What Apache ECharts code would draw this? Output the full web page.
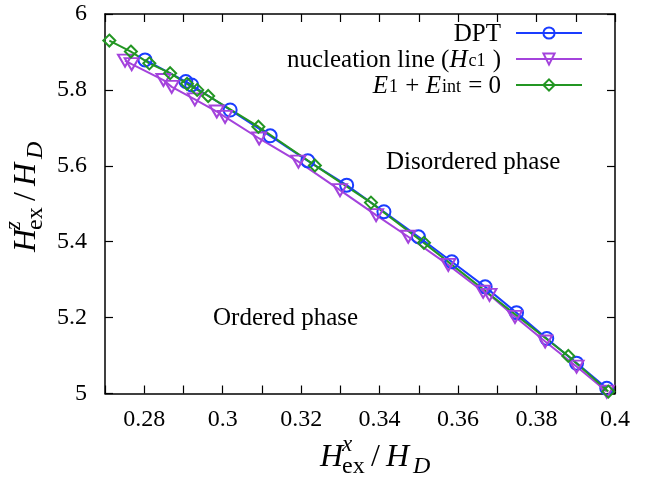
<!DOCTYPE html>
<html>
<head>
<meta charset="utf-8">
<script src="https://cdn.jsdelivr.net/npm/echarts@6/dist/echarts.min.js"></script>
<style>html,body{margin:0;padding:0;background:#fff}#c{width:665px;height:482px}</style>
</head>
<body>
<div id="c"></div>
<script>
// ---- data ----
var dptX = [0.2802, 0.2906, 0.2921, 0.3019, 0.3121, 0.3217, 0.3316, 0.3411, 0.3499, 0.3584, 0.3669, 0.3749, 0.3826, 0.3902, 0.3979];
var dptY = [5.879, 5.822, 5.813, 5.747, 5.679, 5.613, 5.549, 5.479, 5.413, 5.347, 5.281, 5.213, 5.145, 5.080, 5.014];
var nucX = [0.2751, 0.2768, 0.2849, 0.2870, 0.2929, 0.2985, 0.3006, 0.3093, 0.3193, 0.3299, 0.3391, 0.3473, 0.3575, 0.3664, 0.3680, 0.3745, 0.3822, 0.3902, 0.3979];
var nucY = [5.877, 5.868, 5.826, 5.808, 5.775, 5.743, 5.729, 5.672, 5.611, 5.536, 5.470, 5.413, 5.339, 5.268, 5.260, 5.202, 5.137, 5.071, 5.005];
var eX = [0.2711, 0.2766, 0.2813, 0.2866, 0.2909, 0.2935, 0.2963, 0.3091, 0.3235, 0.3378, 0.3513, 0.3881, 0.3983];
var eY = [5.930, 5.901, 5.870, 5.844, 5.816, 5.800, 5.784, 5.703, 5.601, 5.503, 5.397, 5.099, 5.005];
var xTicks = [0.28, 0.3, 0.32, 0.34, 0.36, 0.38, 0.4];
var yTicks = [5, 5.2, 5.4, 5.6, 5.8, 6];
var seriesNames = ['DPT', 'nucleation line', 'E1 + Eint = 0'];

var FONT = 'Liberation Serif';
var C_BLUE = '#1a3cff', C_PURP = '#a443dc', C_GREEN = '#239623';

function zip(a, b) { return a.map(function (v, i) { return [v, b[i]]; }); }

var chart = echarts.init(document.getElementById('c'), null, { renderer: 'canvas' });

function mkSeries(name, data, color, symbol, size, rot) {
  return {
    name: name, type: 'line', data: data, symbol: symbol, symbolSize: size,
    symbolRotate: rot || 0, showSymbol: true, animation: false,
    lineStyle: { color: color, width: 2 },
    itemStyle: { color: 'rgba(255,255,255,0)', borderColor: color, borderWidth: 2 }
  };
}

var lineStyle = { show: true, lineStyle: { color: '#000', width: 1.5 } };
var labelStyle = { fontFamily: FONT, fontSize: 24, color: '#000' };
function isMajorX(v) { return Math.abs(Math.round(v * 100) % 2) === 0; }
var xTickStyle = { inside: true, length: 8, lineStyle: { color: '#000', width: 1.2 },
  interval: function (i, v) { return isMajorX(v) && v > 0.275; } };
var yTickStyle = { inside: true, length: 8, lineStyle: { color: '#000', width: 1.2 } };

function txt(x, y, s, size, italic) {
  return { type: 'text', x: x, y: y, silent: true,
    style: { text: s, fontFamily: FONT, fontSize: size, fontStyle: italic ? 'italic' : 'normal',
      fill: '#000', verticalAlign: 'middle', align: 'left' } };
}
function titleChildren(sup) {
  return [
    txt(0, -10, 'H', 32, true),
    txt(22, -23, sup, 23, true),
    txt(22, -1, 'ex', 24, false),
    txt(51, -10, '/', 32, false),
    txt(66, -10, 'H', 32, true),
    txt(93, -1, 'D', 24, true)
  ];
}

chart.setOption({
  animation: false,
  textStyle: { fontFamily: FONT },
  grid: { left: 105, right: 50, top: 14, bottom: 88.5, containLabel: false },
  xAxis: [{
    type: 'value', min: 0.27, max: 0.4, interval: 0.01,
    axisLine: lineStyle, axisTick: xTickStyle, splitLine: { show: false },
    axisLabel: Object.assign({ margin: 14, formatter: function (v) {
      var r = Math.round(v * 100) / 100;
      for (var i = 0; i < xTicks.length; i++) if (Math.abs(xTicks[i] - r) < 1e-9) return String(r);
      return '';
    } }, labelStyle)
  }, {
    type: 'value', position: 'top', min: 0.27, max: 0.4, interval: 0.01,
    axisLine: lineStyle, axisLabel: { show: false }, splitLine: { show: false },
    axisTick: xTickStyle
  }],
  yAxis: [{
    type: 'value', min: 5, max: 6, interval: 0.2,
    axisLine: lineStyle, axisTick: yTickStyle, splitLine: { show: false },
    axisLabel: Object.assign({ margin: 18, formatter: function (v) { return String(Math.round(v * 10) / 10); } }, labelStyle)
  }, {
    type: 'value', position: 'right', min: 5, max: 6, interval: 0.2,
    axisLine: lineStyle, axisTick: yTickStyle, splitLine: { show: false }, axisLabel: { show: false }
  }],
  legend: {
    right: 77, top: 17, orient: 'vertical', align: 'right',
    itemWidth: 66, itemHeight: 14, itemGap: 1,
    data: seriesNames,
    textStyle: { fontFamily: FONT, fontSize: 25, color: '#000', lineHeight: 22, padding: [0, 10, 0, 0],
      rich: {
        i: { fontFamily: FONT, fontSize: 25, fontStyle: 'italic', lineHeight: 22, verticalAlign: 'top' },
        s: { fontFamily: FONT, fontSize: 18, lineHeight: 9, verticalAlign: 'bottom', padding: [0, 1, 0, 1] },
        n: { fontFamily: FONT, fontSize: 25, lineHeight: 22, verticalAlign: 'top' }
      } },
    formatter: function (name) {
      if (name === seriesNames[1]) return '{n|nucleation line (}{i|H}{s|c1}{n| )}';
      if (name === seriesNames[2]) return '{i|E}{s|1}{n| + }{i|E}{s|int}{n| = 0}';
      return '{n|' + name + '}';
    }
  },
  graphic: [
    { type: 'group', x: 320, y: 468, children: titleChildren('x') },
    { type: 'group', x: 37, y: 252, rotation: Math.PI / 2, children: titleChildren('z') },
    { type: 'text', x: 386, y: 162, silent: true, style: { text: 'Disordered phase', fontFamily: FONT, fontSize: 25, fill: '#000', verticalAlign: 'middle' } },
    { type: 'text', x: 213, y: 318, silent: true, style: { text: 'Ordered phase', fontFamily: FONT, fontSize: 25, fill: '#000', verticalAlign: 'middle' } }
  ],
  series: [
    mkSeries(seriesNames[0], zip(dptX, dptY), C_BLUE, 'circle', 13),
    mkSeries(seriesNames[1], zip(nucX, nucY), C_PURP, 'triangle', [14, 12], 180),
    mkSeries(seriesNames[2], zip(eX, eY), C_GREEN, 'diamond', 12)
  ]
});
</script>
</body>
</html>
